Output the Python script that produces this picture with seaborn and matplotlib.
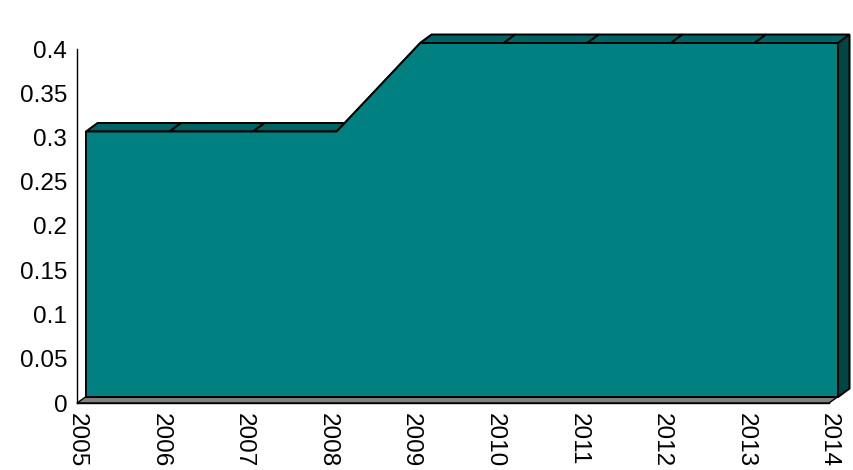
import numpy as np
import pandas as pd
import matplotlib
matplotlib.use("Agg")
import matplotlib.pyplot as plt
from matplotlib.patches import Polygon
import seaborn as sns

years = [2005, 2006, 2007, 2008, 2009, 2010, 2011, 2012, 2013, 2014]
values = [0.3, 0.3, 0.3, 0.3, 0.4, 0.4, 0.4, 0.4, 0.4, 0.4]
y_ticks = [0, 0.05, 0.1, 0.15, 0.2, 0.25, 0.3, 0.35, 0.4]
y_labels = ["0", "0.05", "0.1", "0.15", "0.2", "0.25", "0.3", "0.35", "0.4"]

FRONT = "#008080"
TOP = "#006464"
SIDE = "#004444"
FLOOR = "#808080"

# 3d look: shift of the front face and of the depth, in data units
px_x = 83.56   # pixels per year
px_y = 885.0   # pixels per unit of value
dxf, dyf = 9 / px_x, 6 / px_y
dxb, dyb = 11.5 / px_x, 8.5 / px_y


def main():
    sns.set_style("white")
    plt.rcParams['font.family'] = ['Liberation Sans', 'DejaVu Sans']
    plt.rcParams['text.color'] = 'black'
    plt.rcParams['xtick.color'] = 'black'
    plt.rcParams['ytick.color'] = 'black'

    df = pd.DataFrame({'year': years, 'value': values})

    fig = plt.figure(figsize=(8.54, 4.70), dpi=100)
    ax = fig.add_axes([77 / 854, 67 / 470, 777 / 854, 403 / 470])
    ax.set_xlim(2005, 2005 + 777 / px_x)
    ax.set_ylim(0, 403 / px_y)

    x = np.array(df['year'], dtype=float)
    y = np.array(df['value'], dtype=float)
    lw = 1.4

    # floor
    floor = [(x[0], 0), (x[-1], 0),
             (x[-1] + dxf + dxb, dyf + dyb), (x[0] + dxf + dxb, dyf + dyb)]
    ax.add_patch(Polygon(floor, closed=True, facecolor=FLOOR, edgecolor='black',
                         lw=1.0, zorder=1, clip_on=False))

    # top faces, one per segment
    fx, fy = x + dxf, y + dyf
    bx, by = fx + dxb, fy + dyb
    for i in range(len(x) - 1):
        quad = [(fx[i], fy[i]), (fx[i + 1], fy[i + 1]),
                (bx[i + 1], by[i + 1]), (bx[i], by[i])]
        ax.add_patch(Polygon(quad, closed=True, facecolor=TOP, edgecolor='black',
                             lw=lw, zorder=2, clip_on=False))

    # right side face
    side = [(fx[-1], fy[-1]), (bx[-1], by[-1]), (bx[-1], dyf + dyb), (fx[-1], dyf)]
    ax.add_patch(Polygon(side, closed=True, facecolor=SIDE, edgecolor='black',
                         lw=lw, zorder=3, clip_on=False))

    # front face
    ax.fill_between(fx, dyf, fy, color=FRONT, lw=0, zorder=4)
    sns.lineplot(x=fx, y=fy, color='black', lw=lw, ax=ax, zorder=5)
    ax.plot([fx[0], fx[0], fx[-1], fx[-1]], [fy[0], dyf, dyf, fy[-1]],
            color='black', lw=lw, zorder=5)

    for s in ['top', 'right']:
        ax.spines[s].set_visible(False)
    ax.spines['left'].set_bounds(0, 0.4)
    ax.spines['bottom'].set_bounds(2005, 2014)
    for s in ['left', 'bottom']:
        ax.spines[s].set_color('black')
        ax.spines[s].set_linewidth(1.0)
        ax.spines[s].set_zorder(6)

    ax.set_yticks(y_ticks)
    ax.set_yticklabels(y_labels, fontsize=17.5, color='black')
    ax.set_xticks(years)
    ax.set_xticklabels([str(v) for v in years], fontsize=17.5, rotation=-90, color='black')
    ax.tick_params(axis='y', direction='out', length=6, width=1.0, color='black', pad=1)
    ax.tick_params(axis='x', direction='out', length=4, width=1.0, color='black', pad=3)
    ax.set_xlabel('')
    ax.set_ylabel('')
    ax.grid(False)

    fig.savefig('out.png', dpi=100)
    plt.close(fig)


if __name__ == "__main__":
    main()
